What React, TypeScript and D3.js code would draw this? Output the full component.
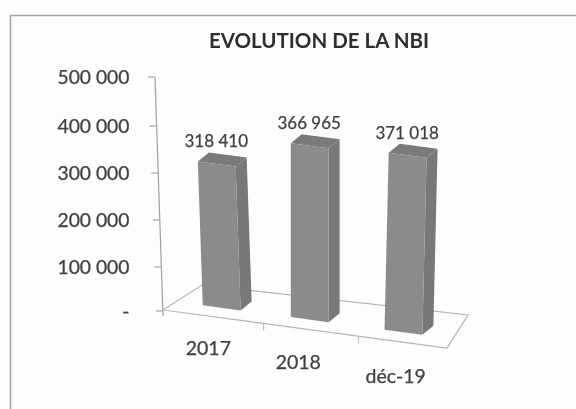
import React from "react";
import * as d3 from "d3";

const categories = ["2017", "2018", "déc-19"];
const values = [318410, 366965, 371018];
const valueLabels = ["318 410", "366 965", "371 018"];
const ticks = [0, 100000, 200000, 300000, 400000, 500000];
const tickLabels = ["-", "100 000", "200 000", "300 000", "400 000", "500 000"];

const font = "Lato, 'Open Sans', sans-serif";
const textColor = "#404040";

// floor front edge, in picture pixels
const floorX = d3.scaleLinear().domain([0, 3]).range([163, 447]);
const floorY = d3.scaleLinear().domain([0, 3]).range([315, 353]);
// the axis is not quite even in the photo, so one stop per tick
const axisY = d3.scaleLinear().domain(ticks).range([311, 267, 220, 173, 126, 77]);
const axisX = d3.scaleLinear().domain([0, 500000]).range([163, 155]);
// verticals lean and scale a bit per bar because of the 3D view
const lean = d3.scaleLinear().domain([0.83, 1.76, 2.75]).range([-0.034, 0, 0.024]);
const pxPerUnit = d3.scaleLinear().domain([0.83, 1.76, 2.75]).range([0.000452, 0.000474, 0.000477]);
const barStart = d3.scaleLinear().domain([0, 1, 2]).range([0.42, 1.35, 2.34]);
const labelStart = d3.scaleLinear().domain([0, 2]).range([0.24, 2.14]);

const barWidth = 0.4;
const depth: [number, number] = [11, -9];

type Pt = [number, number];

const poly = (pts: Pt[]) => d3.line()(pts) + "Z";

const App = () => {
  const bars = values.map((v, i) => {
    const t0 = barStart(i);
    const t1 = t0 + barWidth;
    const tm = (t0 + t1) / 2 + 0.2;
    const h = v * pxPerUnit(tm);
    const dx = h * lean(tm);
    const bl: Pt = [floorX(t0), floorY(t0) - 15];
    const br: Pt = [floorX(t1), floorY(t1) - 15];
    const tl: Pt = [bl[0] + dx, bl[1] - h];
    const tr: Pt = [br[0] + dx, br[1] - h];
    const back = (p: Pt): Pt => [p[0] + depth[0], p[1] + depth[1]];
    return { bl, br, tl, tr, brb: back(br), trb: back(tr), tlb: back(tl) };
  });

  const floorPts: Pt[] = [
    [floorX(0), floorY(0) - 5],
    [floorX(3), floorY(3) - 5],
    [floorX(3) + 21, floorY(3) - 38],
    [floorX(0) + 39, floorY(0) - 30],
  ];

  const textStyle = { fontFamily: font, fill: textColor, stroke: textColor, strokeWidth: 0.25 };

  return (
    <svg
      width={576}
      height={409}
      style={{ position: "absolute", left: 0, top: 0, background: "#fdfdfd" }}
    >
      <defs>
        <filter id="scan" x="-5%" y="-5%" width="110%" height="110%">
          <feGaussianBlur stdDeviation="0.55" />
        </filter>
      </defs>
      <g filter="url(#scan)">
        <path d="M10.5,409V15.5H576" fill="none" stroke="#a2a2a2" strokeWidth={1.5} />
        <text x={319} y={47.5} textAnchor="middle" fontFamily={font} fontWeight={700} fontSize={20.5} fill="#2e2e2e">
          EVOLUTION DE LA NBI
        </text>

        <path d={poly(floorPts)} fill="none" stroke="#b4b4b4" strokeWidth={1.2} />
        <line x1={axisX(0)} y1={axisY(0) + 5} x2={axisX(500000)} y2={axisY(500000)} stroke="#a0a0a0" strokeWidth={1.2} />
        {ticks.map((t, i) => (
          <g key={t}>
            <line
              x1={axisX(t) - 7}
              x2={axisX(t)}
              y1={axisY(t)}
              y2={axisY(t)}
              stroke="#a8a8a8"
              strokeWidth={1.2}
            />
            <text x={129.5} y={axisY(t) + 6.5} textAnchor="end" fontSize={19.3} style={textStyle}>
              {tickLabels[i]}
            </text>
          </g>
        ))}
        {[1, 2].map((t) => (
          <line
            key={t}
            x1={floorX(t) + 6}
            x2={floorX(t) + 6}
            y1={floorY(t) - 4}
            y2={floorY(t) + 3}
            stroke="#b4b4b4"
          />
        ))}

        {bars.map((b, i) => (
          <g key={categories[i]}>
            <path d={poly([b.br, b.brb, b.trb, b.tr])} fill="#787878" />
            <path d={poly([b.tl, b.tr, b.trb, b.tlb])} fill="#7a7a7a" />
            <path d={poly([b.bl, b.br, b.tr, b.tl])} fill="#8b8b8b" />
            <text
              x={(b.tl[0] + b.trb[0]) / 2 - 6}
              y={b.tlb[1] - 5}
              textAnchor="middle"
              fontSize={17}
              style={textStyle}
            >
              {valueLabels[i]}
            </text>
            <text
              x={floorX(labelStart(i))}
              y={floorY(labelStart(i)) + 37 + 2 * i}
              textAnchor="start"
              fontSize={19.5}
              style={textStyle}
            >
              {categories[i]}
            </text>
          </g>
        ))}
      </g>
    </svg>
  );
};

export default App;
